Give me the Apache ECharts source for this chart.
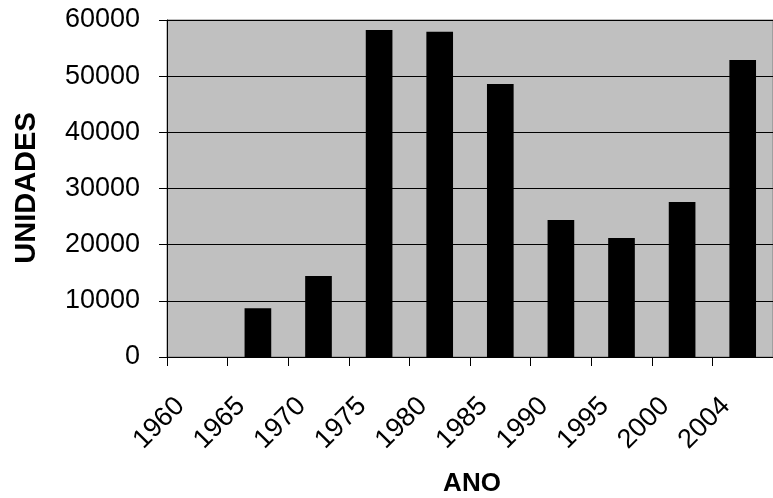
<!DOCTYPE html>
<html>
<head>
<meta charset="utf-8">
<script src="https://cdn.jsdelivr.net/npm/echarts@6/dist/echarts.min.js"></script>
<style>
  html, body { margin: 0; padding: 0; background: #ffffff; }
  #chart { width: 773px; height: 498px; }
</style>
</head>
<body>
<div id="chart"></div>
<script>
// Units per year
const years = ['1960', '1965', '1970', '1975', '1980', '1985', '1990', '1995', '2000', '2004'];
const unidades = [0, 8700, 14400, 58200, 57900, 48600, 24400, 21200, 27600, 52900];
const yTicks = { min: 0, max: 60000, interval: 10000 };

const FONT = '"Liberation Sans", Arial, sans-serif';

const chart = echarts.init(document.getElementById('chart'), null, { renderer: 'canvas' });

chart.setOption({
  animation: false,
  backgroundColor: '#ffffff',
  grid: {
    left: 167,
    top: 20,
    width: 615,
    height: 337,
    show: true,
    backgroundColor: '#c0c0c0',
    borderColor: '#808080',
    borderWidth: 1
  },
  xAxis: {
    type: 'category',
    data: years,
    boundaryGap: true,
    axisLine: { show: true, lineStyle: { color: '#000000', width: 1 } },
    axisTick: { show: true, inside: false, length: 9, lineStyle: { color: '#000000' } },
    axisLabel: {
      rotate: 45,
      margin: 28,
      padding: [0, 24, 0, 0],
      fontFamily: FONT,
      fontSize: 27,
      color: '#000000'
    },
    splitLine: { show: false }
  },
  yAxis: {
    type: 'value',
    min: yTicks.min,
    max: yTicks.max,
    interval: yTicks.interval,
    axisLine: { show: true, lineStyle: { color: '#000000', width: 1 } },
    axisTick: { show: true, inside: false, length: 8, lineStyle: { color: '#000000' } },
    axisLabel: {
      margin: 27,
      fontFamily: FONT,
      fontSize: 27,
      color: '#000000',
      formatter: (v) => String(v)
    },
    splitLine: { show: true, lineStyle: { color: '#000000', width: 1 } }
  },
  graphic: [
    {
      type: 'text',
      x: 27,
      y: 188,
      rotation: Math.PI / 2,
      style: {
        text: 'UNIDADES',
        fontFamily: FONT,
        fontWeight: 'bold',
        fontSize: 29,
        fill: '#000000',
        align: 'center',
        verticalAlign: 'middle'
      }
    },
    {
      type: 'text',
      x: 472,
      y: 484,
      style: {
        text: 'ANO',
        fontFamily: FONT,
        fontWeight: 'bold',
        fontSize: 26,
        fill: '#000000',
        align: 'center',
        verticalAlign: 'middle'
      }
    }
  ],
  series: [
    {
      type: 'bar',
      data: unidades,
      barWidth: '44%',
      itemStyle: { color: '#000000' },
      silent: true
    }
  ]
});
</script>
</body>
</html>
